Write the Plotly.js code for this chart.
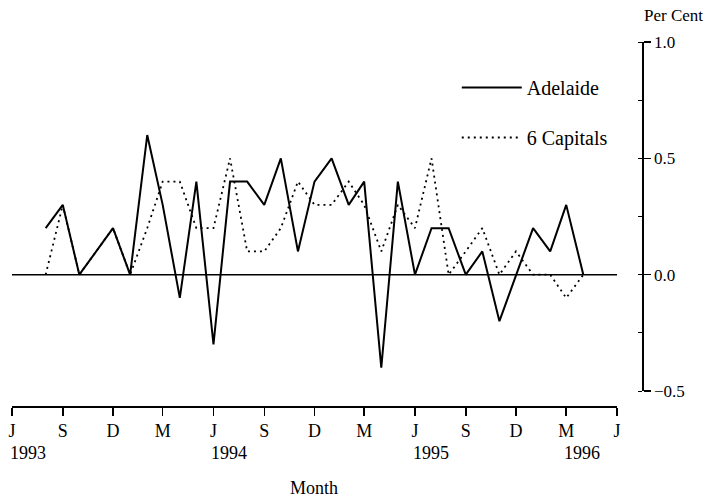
<!DOCTYPE html>
<html>
<head>
<meta charset="utf-8">
<script src="https://cdn.plot.ly/plotly-3.0.1.min.js"></script>
<style>html,body{margin:0;padding:0;background:#fff;}#chart{width:727px;height:500px;}</style>
</head>
<body>
<div id="chart"></div>
<script>
// Months (monthly observations)
const months = [
  '1993-08-01','1993-09-01','1993-10-01','1993-11-01','1993-12-01',
  '1994-01-01','1994-02-01','1994-03-01','1994-04-01','1994-05-01','1994-06-01',
  '1994-07-01','1994-08-01','1994-09-01','1994-10-01','1994-11-01','1994-12-01',
  '1995-01-01','1995-02-01','1995-03-01','1995-04-01','1995-05-01','1995-06-01',
  '1995-07-01','1995-08-01','1995-09-01','1995-10-01','1995-11-01','1995-12-01',
  '1996-01-01','1996-02-01','1996-03-01','1996-04-01'
];
// Monthly change, per cent
const adelaide = [0.2, 0.3, 0.0, 0.1, 0.2, 0.0, 0.6, 0.3, -0.1, 0.4, -0.3, 0.4, 0.4, 0.3, 0.5, 0.1, 0.4,
                  0.5, 0.3, 0.4, -0.4, 0.4, 0.0, 0.2, 0.2, 0.0, 0.1, -0.2, 0.0, 0.2, 0.1, 0.3, 0.0];
const capitals = [0.0, 0.3, 0.0, 0.1, 0.2, 0.0, 0.2, 0.4, 0.4, 0.2, 0.2, 0.5, 0.1, 0.1, 0.2, 0.4, 0.3,
                  0.3, 0.4, 0.3, 0.1, 0.3, 0.2, 0.5, 0.0, 0.1, 0.2, 0.0, 0.1, 0.0, 0.0, -0.1, 0.0];
// Axis ticks
const xTickVals = ['1993-06-01','1993-09-01','1993-12-01','1994-03-01','1994-06-01','1994-09-01','1994-12-01',
                   '1995-03-01','1995-06-01','1995-09-01','1995-12-01','1996-03-01','1996-06-01'];
const xTickText = ['J','S','D','M','J','S','D','M','J','S','D','M','J'];
const yearLabels = ['1993','1994','1995','1996'];
const yearPositions = ['1993-06-01','1994-06-01','1995-06-01','1996-03-01'];
const yTickVals = [-0.5, 0, 0.5, 1.0];
const seriesNames = ['Adelaide', '6 Capitals'];

const FONT = 'Liberation Serif, Times New Roman, serif';

const traces = [
  {x: months, y: adelaide, name: seriesNames[0], type: 'scatter', mode: 'lines',
   line: {color: '#000', width: 2}, legendgroup: 'a'},
  {x: months, y: capitals, name: seriesNames[1], type: 'scatter', mode: 'lines',
   line: {color: '#000', width: 1.8, dash: '2px,4px'}, legendgroup: 'b'}
];

const H = 364; // plot height in px
const annotations = yearLabels.map((t, i) => ({
  text: t, x: yearPositions[i], xref: 'x', y: -47 / H, yref: 'paper',
  xanchor: 'left', yanchor: 'middle', showarrow: false, xshift: -4,
  font: {family: FONT, size: 18, color: '#000'}
}));
annotations.push({text: 'Month', x: 0.48, xref: 'paper', y: -82 / H, yref: 'paper',
  xanchor: 'center', yanchor: 'middle', showarrow: false, font: {family: FONT, size: 18, color: '#000'}});
annotations.push({text: 'Per Cent', x: 1.0, xref: 'paper', y: 1 + 27 / H, yref: 'paper',
  xanchor: 'left', yanchor: 'middle', showarrow: false, font: {family: FONT, size: 17, color: '#000'}});

const layout = {
  width: 727, height: 500,
  margin: {l: 12, r: 85, t: 42, b: 94},
  paper_bgcolor: '#fff', plot_bgcolor: '#fff',
  font: {family: FONT, size: 18, color: '#000'},
  showlegend: true,
  legend: {x: 0.706, y: 1 - 26 / H, xanchor: 'left', yanchor: 'top', itemwidth: 60,
           bgcolor: 'rgba(0,0,0,0)', font: {family: FONT, size: 20, color: '#000'},
           traceorder: 'grouped', tracegroupgap: 21},
  xaxis: {
    type: 'date', range: ['1993-06-01', '1996-06-01'], domain: [0, 605 / 630],
    anchor: 'free', position: 0,
    tickmode: 'array', tickvals: xTickVals, ticktext: xTickText,
    ticks: 'outside', ticklen: 8, tickwidth: 1.5, tickcolor: '#000',
    showline: true, linecolor: '#000', linewidth: 1.5, showgrid: false, zeroline: false,
    tickfont: {family: FONT, size: 18, color: '#000'}, fixedrange: true
  },
  yaxis: {
    range: [-0.5, 1.0], domain: [15 / H, 1], side: 'right', anchor: 'free', position: 1,
    tickmode: 'array', tickvals: yTickVals, tickformat: '.1f',
    ticks: 'outside', ticklen: 7, tickwidth: 1.5, tickcolor: '#000',
    minor: {dtick: 0.25, ticks: 'inside', ticklen: 4, tickcolor: '#000', tickwidth: 1},
    showline: true, linecolor: '#000', linewidth: 1.5, showgrid: false, zeroline: false,
    tickfont: {family: FONT, size: 17, color: '#000'}, fixedrange: true
  },
  shapes: [{type: 'line', xref: 'x domain', x0: 0, x1: 1, yref: 'y', y0: 0, y1: 0,
            layer: 'below', line: {color: '#000', width: 1.5}}],
  annotations: annotations
};

Plotly.newPlot('chart', traces, layout, {displayModeBar: false, staticPlot: true});
</script>
</body>
</html>
